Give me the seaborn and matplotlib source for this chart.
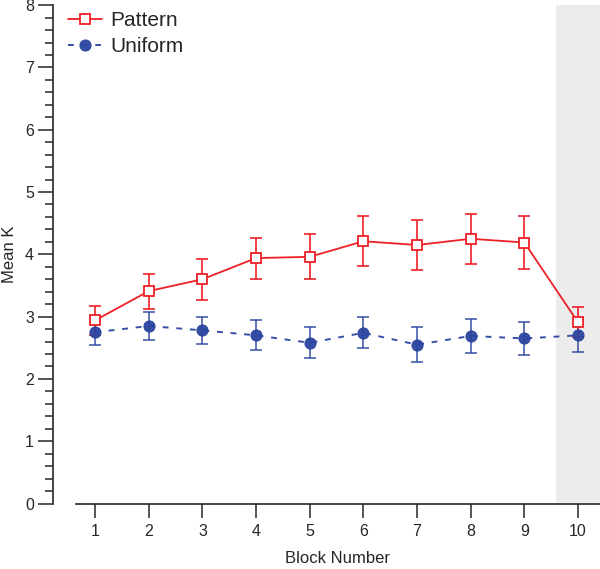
import numpy as np
import pandas as pd
import matplotlib
matplotlib.use('Agg')
import matplotlib.pyplot as plt
import seaborn as sns
from matplotlib.ticker import MultipleLocator

# valores
blocos = [1, 2, 3, 4, 5, 6, 7, 8, 9, 10]
pattern_media = [2.94, 3.41, 3.60, 3.94, 3.96, 4.21, 4.15, 4.25, 4.19, 2.91]
pattern_erro = [0.23, 0.28, 0.33, 0.33, 0.36, 0.40, 0.40, 0.40, 0.43, 0.24]
uniform_media = [2.75, 2.85, 2.78, 2.70, 2.58, 2.74, 2.55, 2.69, 2.65, 2.70]
uniform_erro = [0.21, 0.22, 0.22, 0.24, 0.25, 0.25, 0.28, 0.27, 0.27, 0.27]

vermelho = '#ee2026'
azul = '#2b45a0'

sns.set_style('ticks')
plt.rcParams['font.family'] = ['Liberation Sans', 'DejaVu Sans']

df = pd.DataFrame({'Bloco': blocos * 2,
                   'Media': pattern_media + uniform_media,
                   'Erro': pattern_erro + uniform_erro,
                   'Condicao': ['Pattern'] * 10 + ['Uniform'] * 10})

fig = plt.figure(figsize=(6, 5.69), dpi=100)
ax = fig.add_axes([0.126, 0.115, 0.874, 0.876])

# faixa cinza do ultimo bloco
ax.axvspan(9.59, 10.5, color='#ececec', zorder=0, lw=0)

# barras de erro
pat = df[df['Condicao'] == 'Pattern']
uni = df[df['Condicao'] == 'Uniform']
ax.errorbar(uni['Bloco'], uni['Media'], yerr=uni['Erro'], fmt='none',
            ecolor=azul, elinewidth=1.3, capsize=4, capthick=1.3, alpha=0.8, zorder=2)
ax.errorbar(pat['Bloco'], pat['Media'], yerr=pat['Erro'], fmt='none',
            ecolor=vermelho, elinewidth=1.2, capsize=4, capthick=1.2, zorder=3)

sns.lineplot(data=uni, x='Bloco', y='Media', ax=ax, color=azul, lw=1.4,
             linestyle=(0, (3, 4)), marker='o', markersize=8, markeredgecolor=azul,
             markerfacecolor=azul, label='Uniform', zorder=4, alpha=0.95)
sns.lineplot(data=pat, x='Bloco', y='Media', ax=ax, color=vermelho, lw=1.3,
             marker='s', markersize=6.5, markerfacecolor='white',
             markeredgecolor=vermelho, markeredgewidth=1.3, label='Pattern', zorder=5)

ax.set_xlim(0.637, 10.41)
ax.set_ylim(0, 8)
ax.set_xticks(blocos)
ax.set_yticks(range(0, 9))
ax.yaxis.set_minor_locator(MultipleLocator(0.2))

sns.despine(ax=ax)
ax.spines['left'].set_position(('outward', 16))
ax.spines['left'].set_linewidth(1.2)
ax.spines['bottom'].set_linewidth(1.2)
ax.tick_params(axis='y', which='major', length=10.5, width=1.1, labelsize=11.5, pad=3.5)
ax.tick_params(axis='x', which='major', length=10, width=1.1, labelsize=11.5, pad=5)
ax.tick_params(axis='y', which='minor', length=5.8, width=1.1)

ax.set_xlabel('Block Number', fontsize=12, labelpad=8)
ax.set_ylabel('Mean K', fontsize=12, labelpad=6)

handles, labels = ax.get_legend_handles_labels()
ordem = [labels.index('Pattern'), labels.index('Uniform')]
ax.legend([handles[i] for i in ordem], [labels[i] for i in ordem],
          loc='upper left', bbox_to_anchor=(0.1, 0.995), bbox_transform=fig.transFigure,
          frameon=False, fontsize=15, handlelength=1.6, handletextpad=0.4,
          labelspacing=0.35, borderaxespad=0)

fig.savefig('out.png', dpi=100)
